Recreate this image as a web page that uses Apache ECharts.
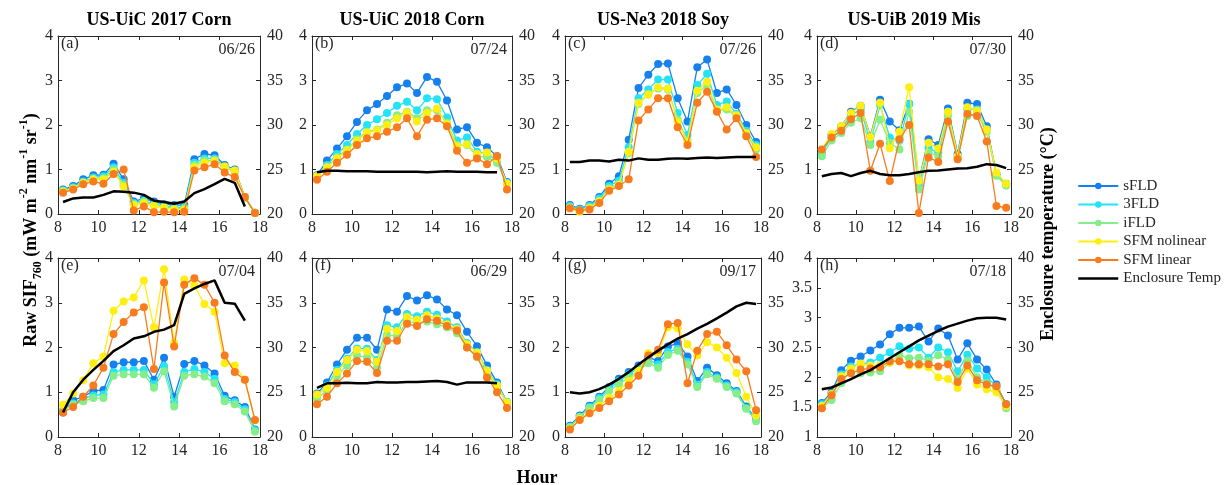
<!DOCTYPE html>
<html><head><meta charset="utf-8">
<script src="https://cdn.jsdelivr.net/npm/echarts@6/dist/echarts.min.js"></script>
<style>html,body{margin:0;padding:0;background:#fff}#c{width:1229px;height:485px}</style>
</head><body><div id="c"></div><script>
// ---------- data ----------
const hours = [8.25,8.75,9.25,9.75,10.25,10.75,11.25,11.75,12.25,12.75,13.25,13.75,14.25,14.75,15.25,15.75,16.25,16.75,17.25,17.75];
const methods = ['sFLD','3FLD','iFLD','SFM nolinear','SFM linear'];
const tempName = 'Enclosure Temp';
const siteTitles = ['US-UiC 2017 Corn','US-UiC 2018 Corn','US-Ne3 2018 Soy','US-UiB 2019 Mis'];
const panelLetters = ['(a)','(b)','(c)','(d)','(e)','(f)','(g)','(h)'];
const panelDates = ['06/26','07/24','07/26','07/30','07/04','06/29','09/17','07/18'];
const xTicks = [8,10,12,14,16,18];
const tempTicks = [20,25,30,35,40];

// (a) US-UiC 2017 Corn 06/26
const a_sFLD = [0.55,0.63,0.78,0.87,0.88,1.13,0.78,0.28,0.35,0.28,0.22,0.20,0.20,1.23,1.35,1.32,1.10,1.00,0.38,0.03];
const a_3FLD = [0.53,0.60,0.73,0.82,0.85,1.05,0.70,0.25,0.30,0.22,0.18,0.15,0.15,1.15,1.25,1.25,1.07,0.97,0.37,0.03];
const a_iFLD = [0.52,0.58,0.70,0.78,0.80,1.00,0.65,0.22,0.28,0.20,0.16,0.13,0.12,1.10,1.20,1.20,1.05,0.95,0.36,0.02];
const a_SFMnl = [0.50,0.57,0.70,0.78,0.78,0.95,0.62,0.20,0.25,0.18,0.14,0.10,0.10,1.05,1.15,1.20,1.07,0.98,0.38,0.03];
const a_SFMl = [0.48,0.55,0.67,0.73,0.68,0.90,1.00,0.08,0.17,0.04,0.05,0.04,0.05,0.98,1.05,1.12,0.93,0.83,0.38,0.02];
const a_temp = [21.35,21.75,21.85,21.85,22.15,22.55,22.5,22.4,22.15,21.5,21.35,21.15,21.4,22.35,22.8,23.35,23.95,23.5,20.85];

// (b) US-UiC 2018 Corn 07/24
const b_sFLD = [0.87,1.20,1.47,1.75,2.07,2.33,2.47,2.65,2.85,2.93,2.72,3.08,2.97,2.55,1.90,1.95,1.60,1.50,1.30,0.72];
const b_3FLD = [0.85,1.10,1.35,1.55,1.80,2.00,2.13,2.27,2.43,2.52,2.33,2.60,2.58,2.17,1.65,1.72,1.40,1.35,1.20,0.70];
const b_iFLD = [0.85,1.05,1.28,1.45,1.68,1.85,1.90,2.05,2.22,2.30,2.15,2.33,2.33,2.05,1.55,1.55,1.30,1.28,1.15,0.68];
const b_SFMnl = [0.85,1.05,1.25,1.43,1.65,1.83,1.88,2.00,2.15,2.28,2.08,2.27,2.37,2.02,1.52,1.57,1.35,1.38,1.25,0.68];
const b_SFMl = [0.77,0.95,1.15,1.33,1.55,1.70,1.75,1.85,1.95,2.15,1.75,2.12,2.15,1.97,1.42,1.15,1.25,1.12,1.30,0.55];
const b_temp = [24.7,24.85,24.85,24.8,24.8,24.8,24.75,24.75,24.75,24.75,24.75,24.7,24.75,24.8,24.75,24.75,24.75,24.7,24.7];

// (c) US-Ne3 2018 Soy 07/26
const c_sFLD = [0.20,0.12,0.20,0.38,0.68,0.85,1.67,2.83,3.13,3.37,3.38,2.60,2.08,3.30,3.47,2.72,2.80,2.45,2.00,1.62];
const c_3FLD = [0.18,0.10,0.18,0.35,0.63,0.75,1.50,2.60,2.80,3.02,3.02,2.27,1.78,2.90,3.15,2.45,2.53,2.25,1.87,1.55];
const c_iFLD = [0.15,0.08,0.15,0.30,0.58,0.68,1.37,2.47,2.70,2.82,2.80,2.12,1.65,2.72,2.90,2.32,2.35,2.20,1.80,1.45];
const c_SFMnl = [0.13,0.05,0.13,0.28,0.55,0.65,1.40,2.50,2.68,2.85,2.82,2.07,1.62,2.77,2.97,2.35,2.40,2.22,1.82,1.50];
const c_SFMl = [0.13,0.08,0.10,0.25,0.52,0.63,0.78,2.10,2.35,2.60,2.60,1.95,1.55,2.50,2.75,2.30,1.90,2.15,1.75,1.28];
const c_temp = [25.85,25.85,26.0,26.0,25.9,26.1,26.0,26.25,26.1,26.1,26.2,26.25,26.2,26.3,26.35,26.3,26.35,26.4,26.4,26.4];

// (d) US-UiB 2019 Mis 07/30
const d_sFLD = [1.42,1.78,1.97,2.30,2.43,1.75,2.57,2.08,1.88,2.48,0.75,1.68,1.55,2.37,1.35,2.50,2.47,1.97,0.90,0.68];
const d_3FLD = [1.38,1.72,1.90,2.22,2.35,1.62,2.45,1.72,1.65,2.47,0.65,1.48,1.38,2.30,1.30,2.35,2.35,1.90,0.88,0.66];
const d_iFLD = [1.30,1.65,1.82,2.05,2.15,1.55,2.12,1.60,1.45,2.30,0.55,1.38,1.30,2.20,1.25,2.20,2.25,1.85,0.86,0.64];
const d_SFMnl = [1.45,1.80,1.98,2.27,2.43,1.73,2.50,1.48,1.85,2.85,0.75,1.60,1.47,2.30,1.30,2.40,2.32,1.90,0.93,0.68];
const d_SFMl = [1.45,1.72,1.87,2.13,2.27,0.97,1.58,0.74,1.68,2.00,0.02,1.27,1.17,2.08,1.23,2.25,2.20,1.63,0.18,0.14];
const d_temp = [24.25,24.5,24.6,24.25,24.6,24.85,24.5,24.35,24.35,24.5,24.7,24.85,24.9,25.0,25.1,25.15,25.3,25.6,25.5,25.15];

// (e) US-UiC 2017 Corn 07/04
const e_sFLD = [0.55,0.82,0.90,1.03,1.05,1.62,1.67,1.67,1.70,1.28,1.77,0.90,1.63,1.70,1.60,1.42,0.92,0.82,0.67,0.17];
const e_3FLD = [0.60,0.75,0.85,0.93,0.95,1.45,1.50,1.50,1.50,1.18,1.58,0.78,1.45,1.52,1.45,1.30,0.85,0.78,0.62,0.15];
const e_iFLD = [0.60,0.72,0.80,0.87,0.87,1.37,1.40,1.40,1.40,1.10,1.47,0.68,1.37,1.40,1.35,1.20,0.80,0.73,0.57,0.12];
const e_SFMnl = [0.72,0.97,1.27,1.65,1.80,2.82,3.03,3.12,3.50,2.45,3.75,2.10,3.52,3.38,2.97,2.80,1.65,1.60,1.28,0.37];
const e_SFMl = [0.55,0.67,0.90,1.15,1.55,2.30,2.57,2.78,2.90,1.52,3.45,2.02,3.40,3.55,3.40,3.00,1.82,1.45,1.28,0.38];
const e_temp = [22.75,25.0,26.4,27.5,28.5,29.6,30.25,31.0,31.25,31.75,32.0,32.5,36.0,36.6,37.1,37.5,35.0,34.9,33.0];

// (f) US-UiC 2018 Corn 06/29
const f_sFLD = [0.97,1.22,1.62,1.95,2.22,2.22,1.95,2.85,2.80,3.15,3.05,3.17,3.07,2.85,2.72,2.35,2.03,1.60,1.22,0.78];
const f_3FLD = [0.92,1.15,1.50,1.75,1.98,1.97,1.72,2.50,2.45,2.75,2.70,2.80,2.73,2.58,2.45,2.10,1.90,1.50,1.18,0.78];
const f_iFLD = [0.85,1.05,1.37,1.60,1.82,1.78,1.55,2.28,2.25,2.58,2.55,2.58,2.52,2.45,2.32,2.00,1.78,1.42,1.12,0.76];
const f_SFMnl = [0.95,1.10,1.45,1.72,1.95,1.92,1.68,2.42,2.37,2.68,2.62,2.72,2.65,2.52,2.42,2.07,1.88,1.48,1.15,0.77];
const f_SFMl = [0.73,0.90,1.20,1.42,1.70,1.68,1.43,2.15,2.15,2.53,2.48,2.63,2.60,2.48,2.38,2.00,1.80,1.33,1.00,0.65];
const f_temp = [25.5,26.0,26.0,26.05,26.0,26.0,26.15,26.1,26.1,26.15,26.15,26.2,26.25,26.15,25.85,26.1,26.1,26.1,26.0];

// (g) US-Ne3 2018 Soy 09/17
const g_sFLD = [0.25,0.48,0.70,0.90,1.12,1.30,1.45,1.60,1.78,1.70,2.02,2.10,1.80,1.25,1.55,1.38,1.20,1.03,0.68,0.40];
const g_3FLD = [0.23,0.45,0.67,0.87,1.08,1.25,1.40,1.55,1.73,1.62,1.90,1.97,1.68,1.17,1.45,1.33,1.15,1.00,0.65,0.38];
const g_iFLD = [0.22,0.45,0.65,0.83,1.03,1.18,1.33,1.48,1.65,1.55,1.83,1.93,1.62,1.12,1.40,1.30,1.12,0.97,0.63,0.35];
const g_SFMnl = [0.18,0.40,0.55,0.70,0.87,1.03,1.25,1.48,1.87,1.87,2.45,2.43,2.07,1.82,2.12,2.00,1.77,1.43,0.90,0.48];
const g_SFMl = [0.17,0.38,0.53,0.65,0.80,0.95,1.15,1.37,1.82,1.95,2.52,2.55,1.20,1.93,2.30,2.35,2.05,1.73,1.47,0.60];
const g_temp = [25.0,24.85,25.0,25.35,25.85,26.5,27.25,28.1,28.9,29.65,30.35,31.0,31.5,32.1,32.65,33.25,33.9,34.6,35.0,34.85];

// (h) US-UiB 2019 Mis 07/18
const h_sFLD = [1.57,1.75,2.12,2.28,2.35,2.45,2.55,2.72,2.83,2.83,2.85,2.60,2.82,2.70,2.30,2.57,2.30,2.13,1.88,1.55];
const h_3FLD = [1.55,1.72,2.05,2.18,2.22,2.25,2.33,2.42,2.52,2.48,2.50,2.33,2.50,2.42,2.10,2.38,2.15,2.00,1.85,1.55];
const h_iFLD = [1.48,1.62,1.90,2.12,2.07,2.08,2.10,2.25,2.37,2.32,2.33,2.28,2.37,2.30,1.97,2.28,2.00,1.90,1.80,1.48];
const h_SFMnl = [1.52,1.72,2.02,2.15,2.23,2.20,2.20,2.25,2.28,2.20,2.20,2.17,2.00,1.97,1.82,2.15,1.88,1.80,1.75,1.52];
const h_SFMl = [1.48,1.70,1.97,2.07,2.13,2.15,2.17,2.27,2.27,2.22,2.22,2.22,2.18,2.22,1.92,2.20,1.95,1.88,1.85,1.55];
const h_temp = [25.33,25.53,26.0,26.47,27.0,27.47,28.13,28.8,29.47,30.13,30.8,31.33,31.87,32.33,32.67,33.0,33.27,33.33,33.33,33.13];

const sifTicksAll = [0,1,2,3,4];
const sifTicksH = [1,1.5,2,2.5,3,3.5,4];

// ---------- assembly ----------
const panelSeries = [
  [a_sFLD,a_3FLD,a_iFLD,a_SFMnl,a_SFMl,a_temp],
  [b_sFLD,b_3FLD,b_iFLD,b_SFMnl,b_SFMl,b_temp],
  [c_sFLD,c_3FLD,c_iFLD,c_SFMnl,c_SFMl,c_temp],
  [d_sFLD,d_3FLD,d_iFLD,d_SFMnl,d_SFMl,d_temp],
  [e_sFLD,e_3FLD,e_iFLD,e_SFMnl,e_SFMl,e_temp],
  [f_sFLD,f_3FLD,f_iFLD,f_SFMnl,f_SFMl,f_temp],
  [g_sFLD,g_3FLD,g_iFLD,g_SFMnl,g_SFMl,g_temp],
  [h_sFLD,h_3FLD,h_iFLD,h_SFMnl,h_SFMl,h_temp]
];
const panelSifTicks = [sifTicksAll,sifTicksAll,sifTicksAll,sifTicksAll,sifTicksAll,sifTicksAll,sifTicksAll,sifTicksH];

const colors = ['#1580EE','#22E4F6','#84EE88','#FFEF10','#F97B1E'];
const colLeft = [58,312,565,817];
const colWidth = [202,200,196,194];
const rowTop = [36,258];
const rowHeight = [178,179];
const FONT = 'Liberation Serif';
const AX = '#262626';

const grids=[], xAxes=[], yAxes=[], series=[], graphics=[];
for (let p=0;p<8;p++){
  const r = Math.floor(p/4), c = p%4;
  const L = colLeft[c], T = rowTop[r], W = colWidth[c], H = rowHeight[r];
  grids.push({left:L, top:T, width:W, height:H, containLabel:false});
  const tickCommon = {show:true, inside:true, length:4, lineStyle:{color:AX,width:1}};
  const lineCommon = {show:true, onZero:false, lineStyle:{color:AX,width:1}};
  xAxes.push({type:'value', gridIndex:p, min:xTicks[0], max:xTicks[xTicks.length-1], interval:xTicks[1]-xTicks[0],
    axisLine:lineCommon, axisTick:tickCommon, splitLine:{show:false},
    axisLabel:{color:AX, fontFamily:FONT, fontSize:16, margin:6}});
  xAxes.push({type:'value', gridIndex:p, position:'top', min:xTicks[0], max:xTicks[xTicks.length-1], interval:xTicks[1]-xTicks[0],
    axisLine:lineCommon, axisTick:tickCommon, splitLine:{show:false}, axisLabel:{show:false}});
  const st = panelSifTicks[p];
  yAxes.push({type:'value', gridIndex:p, position:'left', min:st[0], max:st[st.length-1], interval:st[1]-st[0],
    axisLine:lineCommon, axisTick:tickCommon, splitLine:{show:false},
    axisLabel:{color:AX, fontFamily:FONT, fontSize:16, margin:5}});
  yAxes.push({type:'value', gridIndex:p, position:'right', min:tempTicks[0], max:tempTicks[tempTicks.length-1], interval:tempTicks[1]-tempTicks[0],
    axisLine:lineCommon, axisTick:tickCommon, splitLine:{show:false},
    axisLabel:{color:AX, fontFamily:FONT, fontSize:16, margin:7}});
  const arrs = panelSeries[p];
  for (let m=0;m<5;m++){
    series.push({type:'line', name:methods[m], xAxisIndex:2*p, yAxisIndex:2*p,
      data: arrs[m].map((v,i)=>[hours[i],v]),
      symbol:'circle', symbolSize:8, showSymbol:true,
      lineStyle:{color:colors[m], width:1.3}, itemStyle:{color:colors[m], borderWidth:0},
      z:2+m});
  }
  series.push({type:'line', name:tempName, xAxisIndex:2*p, yAxisIndex:2*p+1,
    data: arrs[5].map((v,i)=>[hours[i],v]),
    symbol:'none', showSymbol:false, lineStyle:{color:'#000', width:2.5}, itemStyle:{color:'#000'}, z:10});
  graphics.push({type:'text', x:L+3, y:T+7.5, style:{text:panelLetters[p], font:'16px "'+FONT+'"', fill:AX, textAlign:'left', align:'left', textVerticalAlign:'middle', verticalAlign:'middle'}});
  graphics.push({type:'text', x:L+W-5, y:T+14, style:{text:panelDates[p], font:'16px "'+FONT+'"', fill:AX, textAlign:'right', align:'right', textVerticalAlign:'middle', verticalAlign:'middle'}});
  if (r===0){
    graphics.push({type:'text', x:L+W/2, y:20, style:{text:siteTitles[c], font:'bold 18px "'+FONT+'"', fill:'#000', textAlign:'center', align:'center', textVerticalAlign:'middle', verticalAlign:'middle'}});
  }
}
graphics.push({type:'text', x:31, y:230, rotation:Math.PI/2, style:{
  text:'{b|Raw SIF}{sub|760}{b| (mW m}{sup|-2}{b| nm}{sup|-1}{b| sr}{sup|-1}{b|)}',
  textAlign:'center', align:'center', textVerticalAlign:'middle', verticalAlign:'middle', fill:'#000',
  rich:{
    b:{fontFamily:FONT, fontWeight:'bold', fontSize:18, lineHeight:26, color:'#000'},
    sub:{fontFamily:FONT, fontWeight:'bold', fontSize:12, lineHeight:12, verticalAlign:'bottom', color:'#000'},
    sup:{fontFamily:FONT, fontWeight:'bold', fontSize:12, lineHeight:12, verticalAlign:'top', color:'#000'}
  }}});
graphics.push({type:'text', x:1048, y:234, rotation:Math.PI/2, style:{text:'Enclosure temperature (°C)', font:'bold 18px "'+FONT+'"', fill:'#000', textAlign:'center', align:'center', textVerticalAlign:'middle', verticalAlign:'middle'}});
graphics.push({type:'text', x:537, y:478, style:{text:'Hour', font:'bold 18px "'+FONT+'"', fill:'#000', textAlign:'center', align:'center', textVerticalAlign:'middle', verticalAlign:'middle'}});

const legendData = methods.map((m,i)=>({name:m, lineStyle:{width:2, color:colors[i]}, itemStyle:{color:colors[i]}}))
  .concat([{name:tempName, lineStyle:{width:2.5, color:'#000'}, itemStyle:{color:'rgba(0,0,0,0)', borderWidth:0}}]);

const chart = echarts.init(document.getElementById('c'), null, {renderer:'canvas'});
chart.setOption({
  animation:false,
  backgroundColor:'#fff',
  grid:grids, xAxis:xAxes, yAxis:yAxes, series:series, graphic:graphics,
  legend:{orient:'vertical', left:1072, top:173, padding:5, itemWidth:40, itemHeight:8, itemGap:2.5,
    data:legendData,
    textStyle:{fontFamily:FONT, fontSize:15, color:AX, lineHeight:16}}
});
</script></body></html>
